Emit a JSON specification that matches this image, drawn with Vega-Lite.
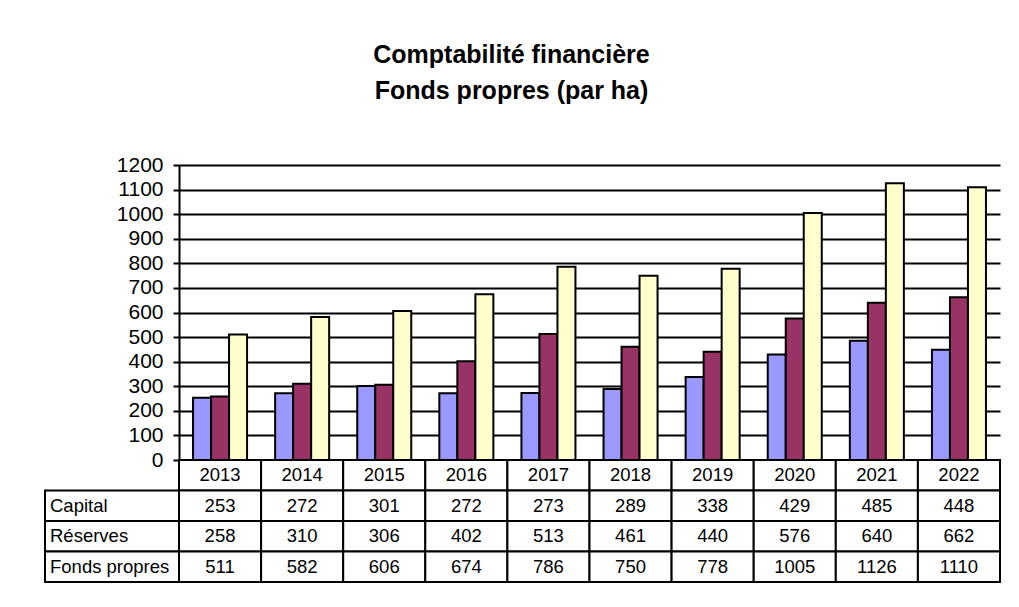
{
  "$schema": "https://vega.github.io/schema/vega-lite/v6.json",
  "padding": {"left": 44, "top": 43, "right": 0, "bottom": 0},
  "background": "white",
  "config": {
    "font": "Liberation Sans",
    "view": {"stroke": null},
    "axis": {"labelColor": "black", "domainColor": "black", "tickColor": "black"}
  },
  "title": {
    "text": ["Comptabilité financière", "Fonds propres (par ha)"],
    "fontSize": 25,
    "fontWeight": "bold",
    "font": "Liberation Sans",
    "color": "black",
    "anchor": "middle",
    "lineHeight": 36,
    "dx": -11,
    "offset": 50
  },
  "datasets": {
    "fonds": [
      {"year": "2013", "Capital": 253, "Réserves": 258, "Fonds propres": 511},
      {"year": "2014", "Capital": 272, "Réserves": 310, "Fonds propres": 582},
      {"year": "2015", "Capital": 301, "Réserves": 306, "Fonds propres": 606},
      {"year": "2016", "Capital": 272, "Réserves": 402, "Fonds propres": 674},
      {"year": "2017", "Capital": 273, "Réserves": 513, "Fonds propres": 786},
      {"year": "2018", "Capital": 289, "Réserves": 461, "Fonds propres": 750},
      {"year": "2019", "Capital": 338, "Réserves": 440, "Fonds propres": 778},
      {"year": "2020", "Capital": 429, "Réserves": 576, "Fonds propres": 1005},
      {"year": "2021", "Capital": 485, "Réserves": 640, "Fonds propres": 1126},
      {"year": "2022", "Capital": 448, "Réserves": 662, "Fonds propres": 1110}
    ],
    "rows": [
      {"row": "Capital"},
      {"row": "Réserves"},
      {"row": "Fonds propres"}
    ]
  },
  "columns": 2,
  "bounds": "flush",
  "align": "each",
  "spacing": 0,
  "concat": [
    {
      "width": 134,
      "height": 295,
      "data": {"values": [{}]},
      "mark": {"type": "text"},
      "encoding": {"text": {"value": ""}}
    },
    {
      "width": 821,
      "height": 295,
      "data": {"name": "fonds"},
      "transform": [
        {"fold": ["Capital", "Réserves", "Fonds propres"], "as": ["series", "value"]}
      ],
      "mark": {"type": "bar", "stroke": "black", "strokeWidth": 2},
      "encoding": {
        "x": {
          "field": "year",
          "type": "ordinal",
          "scale": {"paddingInner": 0.342, "paddingOuter": 0.171},
          "axis": null
        },
        "xOffset": {
          "field": "series",
          "type": "nominal",
          "sort": ["Capital", "Réserves", "Fonds propres"],
          "scale": {"paddingInner": 0, "paddingOuter": 0}
        },
        "y": {
          "field": "value",
          "type": "quantitative",
          "scale": {"domain": [0, 1200], "nice": false},
          "axis": {
            "title": null,
            "format": "d",
            "values": [0, 100, 200, 300, 400, 500, 600, 700, 800, 900, 1000, 1100, 1200],
            "grid": true,
            "gridColor": "black",
            "gridWidth": 2,
            "domainWidth": 2,
            "tickWidth": 2,
            "tickSize": 6,
            "labelFontSize": 21,
            "labelPadding": 10
          }
        },
        "color": {
          "field": "series",
          "type": "nominal",
          "sort": ["Capital", "Réserves", "Fonds propres"],
          "scale": {"domain": ["Capital", "Réserves", "Fonds propres"], "range": ["#9999FF", "#993366", "#FFFFCC"]},
          "legend": null
        }
      }
    },
    {
      "width": 134,
      "height": 122,
      "data": {"name": "rows"},
      "layer": [
        {
          "mark": {"type": "rect", "fill": "white", "stroke": "black", "strokeWidth": 2},
          "encoding": {
            "y": {
              "field": "row",
              "type": "ordinal",
              "scale": {"domain": ["Année", "Capital", "Réserves", "Fonds propres"], "paddingInner": 0, "paddingOuter": 0},
              "axis": null
            }
          }
        },
        {
          "mark": {"type": "text", "align": "left", "dx": 5, "fontSize": 18.5, "color": "black"},
          "encoding": {
            "x": {"datum": 0, "type": "quantitative", "scale": {"domain": [0, 1]}, "axis": null},
            "y": {"field": "row", "type": "ordinal", "axis": null},
            "text": {"field": "row", "type": "nominal"}
          }
        }
      ]
    },
    {
      "width": 821,
      "height": 122,
      "data": {"name": "fonds"},
      "transform": [
        {"calculate": "datum.year", "as": "Année"},
        {"fold": ["Année", "Capital", "Réserves", "Fonds propres"], "as": ["row", "cell"]}
      ],
      "encoding": {
        "x": {"field": "year", "type": "ordinal", "scale": {"paddingInner": 0, "paddingOuter": 0}, "axis": null},
        "y": {
          "field": "row",
          "type": "ordinal",
          "scale": {"domain": ["Année", "Capital", "Réserves", "Fonds propres"], "paddingInner": 0, "paddingOuter": 0},
          "axis": null
        }
      },
      "layer": [
        {"mark": {"type": "rect", "fill": "white", "stroke": "black", "strokeWidth": 2}},
        {
          "mark": {"type": "text", "fontSize": 18.5, "color": "black"},
          "encoding": {"text": {"field": "cell", "type": "nominal"}}
        }
      ]
    }
  ]
}
